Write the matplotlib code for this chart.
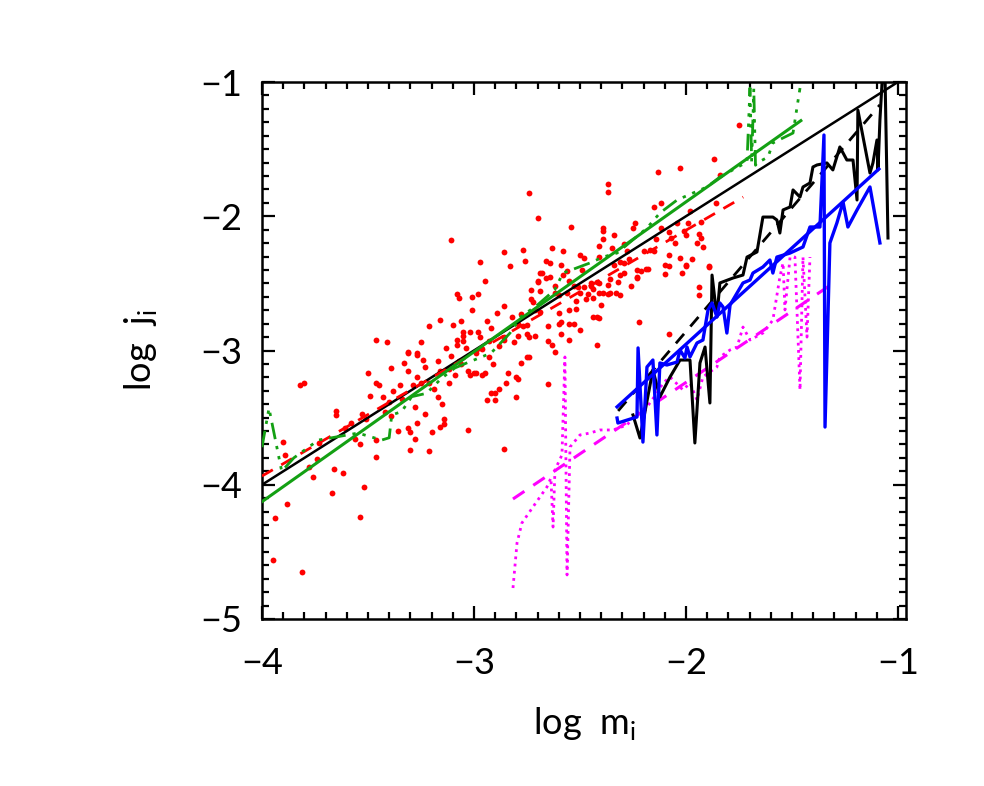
import numpy as np
import matplotlib
matplotlib.use("Agg")
import matplotlib.pyplot as plt
from matplotlib.ticker import FixedLocator, MultipleLocator

# ---------------- data (log m_i, log j_i) ----------------
red_x = [-3.31,-3.27,-3.17,-3.11,-2.99,-2.93,-3.39,-3.23,-3.31,-3.16,-3.09,-3.03,-2.99,-2.96,
         -3.50,-3.46,-3.45,-3.35,-3.29,-3.27,-3.25,-3.21,-3.12,-3.82,-3.80,-3.49,-3.43,-3.38,-3.34,
         -3.17,-3.15,-3.28,-3.42,-3.53,-3.51,-3.65,-3.65,-3.61,-3.73,-3.56,-3.46,-3.39,-3.36,-3.31,
         -3.30,-3.28,-3.27,-3.23,-3.20,-3.16,-3.14,-3.14,-3.03,-3.30,-3.21,-3.46,-3.54,-3.90,-3.89,
         -3.78,-3.74,-3.76,-3.66,-3.62,-3.67,-3.52,-3.88,-3.94,-3.54,-3.95,-3.81,-3.12,-3.06,-3.02,
         -3.00,-2.95,-2.94,-2.92,
         -2.74,-3.11,-2.86,-2.77,-2.76,-2.97,-2.83,-2.95,-3.08,-3.07,-3.01,-2.98,-3.01,-3.16,-3.06,
         -2.94,-2.89,-3.21,-3.10,-3.02,-2.98,-2.92,-3.05,-3.08,-3.05,-3.08,-3.04,-3.46,-3.41,-3.25,
         -3.31,-3.27,-2.88,-2.81,-2.86,-2.79,-2.77,-2.75,-2.75,-2.78,-2.75,-2.96,
         -1.75,-1.87,-2.13,-2.03,-1.84,-2.37,-2.37,-2.70,-2.54,-2.15,-2.12,-1.98,-1.93,-2.04,-2.24,
         -2.39,-2.39,-2.25,-2.34,-2.39,-2.12,-2.08,-2.07,-2.14,-2.01,-2.00,-1.94,-1.93,-1.95,-1.92,
         -2.63,-2.58,-2.50,-2.48,-2.35,-2.29,-2.28,-2.64,-2.59,-2.69,-2.64,-2.66,-2.70,-2.69,-2.62,
         -2.62,-2.55,-2.53,-2.48,-2.45,-2.44,-2.50,-2.46,-2.41,-2.37,-2.41,-2.37,-2.33,-2.31,-2.32,
         -2.34,-2.31,-2.29,-2.27,-2.23,-2.18,-2.23,-2.10,-2.08,-2.10,-2.00,-2.02,-1.97,-1.89,-1.94,
         -1.94,
         -2.56,-2.68,-2.70,-2.73,-2.72,-2.86,-2.79,-2.74,-2.71,-2.65,-2.63,-2.59,-2.55,-2.59,-2.55,
         -2.53,-2.50,-2.62,-2.74,-2.78,-2.84,-2.80,-2.79,-2.85,-2.88,-2.90,-2.90,-2.80,-2.65,-2.86,
         -2.60,-2.56,-2.52,-2.51,-2.45,-2.42,-2.39,-2.44,-2.40,-2.36,-2.41,-2.42,-2.44,-2.22,-2.08,
         -2.42,-2.08,-2.03,-2.00,-1.89,-2.23,-2.19,-2.29,-2.60,-2.55,-2.65,-2.60,-2.52,-1.86,-2.20,
         -2.21,-2.41,-2.41,
         -3.07,-2.97,-2.91,-2.86,-3.19,-3.13,-2.69,-2.66,-2.47,-2.31,-2.26,-2.17,-3.58,-3.40,-3.33,
         -2.82,-2.73,-2.58,-2.49,-2.36,-2.15,-2.05,-1.99,-3.24,-3.05,-2.93,-2.71]
red_y = [-3.02,-3.03,-3.08,-3.04,-3.02,-3.05,-3.13,-3.12,-3.15,-3.15,-3.18,-3.15,-3.17,-3.18,
         -3.17,-3.24,-3.26,-3.26,-3.26,-3.20,-3.24,-3.24,-3.14,-3.26,-3.24,-3.34,-3.35,-3.30,-3.36,
         -3.35,-3.40,-3.42,-3.46,-3.47,-3.51,-3.45,-3.48,-3.58,-3.69,-3.66,-3.67,-3.49,-3.60,-3.58,
         -3.61,-3.66,-3.54,-3.47,-3.61,-3.57,-3.55,-3.51,-3.59,-3.74,-3.75,-3.79,-3.70,-3.68,-3.78,
         -3.87,-3.81,-3.94,-3.88,-3.91,-4.06,-4.02,-4.14,-4.25,-4.24,-4.56,-4.65,-3.24,-3.10,-3.18,
         -3.17,-3.17,-3.37,-3.32,
         -1.83,-2.18,-2.27,-2.25,-2.33,-2.34,-2.37,-2.48,-2.58,-2.61,-2.60,-2.58,-2.70,-2.77,-2.78,
         -2.78,-2.72,-2.82,-2.81,-2.86,-2.86,-2.83,-2.89,-2.92,-2.93,-2.96,-2.98,-2.92,-2.94,-2.94,
         -3.01,-3.02,-2.97,-2.94,-2.92,-2.89,-2.82,-2.88,-2.81,-2.73,-3.05,-2.99,
         -1.32,-1.57,-1.67,-1.64,-1.69,-1.76,-1.82,-2.01,-2.08,-1.93,-1.90,-1.96,-2.04,-2.05,-2.05,
         -2.09,-2.11,-2.09,-2.14,-2.17,-2.09,-2.12,-2.16,-2.17,-2.11,-2.14,-2.13,-2.16,-2.20,-2.23,
         -2.24,-2.26,-2.29,-2.31,-2.24,-2.21,-2.26,-2.35,-2.36,-2.42,-2.45,-2.46,-2.48,-2.56,-2.52,
         -2.57,-2.48,-2.52,-2.53,-2.50,-2.54,-2.57,-2.58,-2.50,-2.51,-2.57,-2.58,-2.57,-2.59,-2.49,
         -2.36,-2.34,-2.35,-2.32,-2.40,-2.39,-2.45,-2.36,-2.37,-2.43,-2.37,-2.42,-2.32,-2.38,-2.53,
         -2.59,
         -2.41,-2.42,-2.49,-2.62,-2.64,-2.90,-2.80,-2.90,-2.89,-2.93,-2.96,-2.88,-2.92,-2.79,-2.80,
         -2.80,-2.85,-3.01,-3.05,-3.09,-3.17,-3.20,-3.21,-3.24,-3.29,-3.32,-3.37,-3.35,-3.25,-3.73,
         -2.59,-2.57,-2.63,-2.53,-2.52,-2.49,-2.57,-2.61,-2.66,-2.57,-2.76,-2.75,-2.75,-2.79,-2.88,
         -2.96,-2.29,-2.31,-2.36,-2.37,-2.46,-2.39,-2.42,-2.72,-2.70,-2.82,-2.80,-2.69,-1.90,-2.26,
         -2.41,-2.22,-2.30,
         -3.08,-2.90,-3.10,-2.67,-3.29,-2.98,-2.71,-2.33,-2.62,-2.44,-2.52,-2.25,-3.54,-3.38,-3.09,
         -2.75,-2.55,-2.44,-2.40,-2.47,-2.26,-2.20,-2.05,-3.07,-2.86,-2.93,-2.70]

# fitted straight lines (end points)
onetoone_x = [-4.0, -0.96]
onetoone_y = [-4.0, -0.96]
red_fit_x = [-4.0, -1.73]
red_fit_y = [-3.935, -1.857]
green_fit_x = [-4.0, -1.458]
green_fit_y = [-4.126, -1.288]
black_fit_x = [-2.32, -1.085]
black_fit_y = [-3.45, -1.17]
blue_fit_x = [-2.325, -1.09]
blue_fit_y = [-3.42, -1.648]
mag_fit_x = [-2.816, -1.297]
mag_fit_y = [-4.106, -2.49]

# green dash-dot curve
green_x = [-4.00,-3.967,-3.907,-3.85,-3.734,-3.671,-3.547,-3.435,-3.40,-3.388,-3.341,-3.294,
           -3.224,-3.153,-3.09,-3.03,-2.92,-2.83,-2.78,-2.70,-2.62,-2.580,-2.453,-2.392,-2.325,
           -2.184,-2.123,-2.042,-1.967,-1.901,-1.840,-1.712,-1.698,-1.690,-1.680,-1.672,-1.665,
           -1.613,-1.590,-1.495,-1.462]
green_y = [-3.72,-3.43,-3.90,-3.80,-3.667,-3.65,-3.615,-3.667,-3.65,-3.48,-3.455,-3.344,
           -3.319,-3.207,-3.13,-3.09,-3.02,-2.87,-2.75,-2.66,-2.55,-2.423,-2.348,-2.304,-2.274,
           -2.088,-1.976,-1.879,-1.827,-1.782,-1.708,-1.596,-1.045,-1.60,-1.05,-1.62,-1.603,
           -1.559,-1.454,-1.380,-1.045]

# black jagged curve
black_x = [-2.250,-2.217,-2.156,-2.123,-2.075,-2.028,-1.981,-1.958,-1.934,-1.910,-1.887,-1.877,
           -1.854,-1.840,-1.778,-1.731,-1.712,-1.665,-1.637,-1.590,-1.571,-1.557,-1.542,-1.509,
           -1.495,-1.462,-1.448,-1.415,-1.401,-1.382,-1.335,-1.307,-1.274,-1.241,-1.212,-1.193,
           -1.189,-1.132,-1.118,-1.099,-1.094,-1.085,-1.075,-1.061,-1.047]
black_y = [-3.480,-3.652,-3.145,-3.346,-3.197,-3.071,-3.071,-3.689,-3.093,-2.974,-3.391,-2.438,
           -2.750,-2.497,-2.460,-2.438,-2.304,-2.266,-2.006,-2.006,-2.028,-2.125,-1.953,-1.931,
           -1.804,-1.857,-1.782,-1.752,-1.633,-1.618,-1.603,-1.655,-1.484,-1.581,-1.581,-1.879,
           -1.209,-1.678,-1.603,-1.432,-1.655,-1.283,-1.007,-0.95,-2.162]

# blue jagged curve
blue_x = [-2.325,-2.321,-2.231,-2.226,-2.203,-2.184,-2.156,-2.137,-2.123,-2.090,-2.042,-2.028,
          -2.005,-1.995,-1.981,-1.948,-1.920,-1.896,-1.877,-1.854,-1.840,-1.825,-1.807,-1.792,
          -1.759,-1.731,-1.698,-1.684,-1.637,-1.604,-1.590,-1.571,-1.509,-1.448,-1.415,-1.368,
          -1.349,-1.344,-1.321,-1.288,-1.259,-1.236,-1.193,-1.132,-1.085]
blue_y = [-3.503,-3.540,-3.495,-2.981,-3.682,-3.123,-3.071,-3.629,-3.093,-3.108,-3.086,-2.996,
          -3.056,-2.974,-3.048,-2.944,-2.922,-2.698,-2.646,-2.750,-2.646,-2.676,-2.870,-2.661,
          -2.572,-2.497,-2.475,-2.423,-2.378,-2.326,-2.423,-2.304,-2.274,-2.229,-2.080,-2.080,
          -1.395,-3.570,-2.199,-2.050,-1.894,-2.080,-1.953,-1.782,-2.199]

# magenta dotted curve
mag_x = [-2.816,-2.797,-2.774,-2.722,-2.656,-2.637,-2.627,-2.618,-2.585,-2.571,-2.561,-2.547,
         -2.500,-2.453,-2.406,-2.344,-2.278,-2.231,-2.184,-2.137,-2.108,-2.075,-2.014,-1.981,
         -1.948,-1.920,-1.854,-1.840,-1.792,-1.759,-1.731,-1.698,-1.637,-1.590,-1.557,-1.542,
         -1.533,-1.509,-1.486,-1.462,-1.448,-1.429,-1.415]
mag_y = [-4.769,-4.434,-4.285,-4.166,-4.017,-3.950,-4.315,-3.890,-3.778,-3.048,-4.672,-3.719,
         -3.629,-3.615,-3.592,-3.592,-3.555,-3.466,-3.421,-3.317,-3.242,-3.197,-3.294,-3.242,
         -3.369,-3.197,-3.123,-3.048,-2.996,-2.974,-2.825,-2.922,-2.870,-2.773,-2.453,-2.348,
         -2.698,-2.304,-2.304,-3.294,-2.304,-2.900,-2.304]

x_ticks = [-4, -3, -2, -1]
y_ticks = [-5, -4, -3, -2, -1]

# ---------------- plot ----------------
plt.rcParams['font.family'] = ['Lato', 'DejaVu Sans']
fig = plt.figure(figsize=(9.84, 7.86), dpi=100)
ax = fig.add_axes([262/984, 1-619/786, (906-262)/984, (619-82)/786])

RED = '#ff0000'; GREEN = '#13a013'; BLUE = '#0000ff'; MAG = '#ff00ff'

ax.plot(red_x, red_y, 'o', color=RED, ms=4.2, mec='none', zorder=2)
ax.plot(onetoone_x, onetoone_y, color='black', lw=1.8, zorder=3)
ax.plot(red_fit_x, red_fit_y, color=RED, lw=2.0, dashes=(4.5, 3.5), zorder=3)
ax.plot(green_x, green_y, color=GREEN, lw=2.0,
        dashes=(6, 2.5, 1.2, 2.5, 1.2, 2.5, 1.2, 2.5), zorder=3)
ax.plot(green_fit_x, green_fit_y, color=GREEN, lw=2.2, zorder=4)
ax.plot(mag_x, mag_y, color=MAG, lw=2.0, dashes=(1, 1.6), zorder=3)
ax.plot(mag_fit_x, mag_fit_y, color=MAG, lw=2.2, dashes=(4.5, 3.5), zorder=3)
ax.plot(black_x, black_y, color='black', lw=2.2, zorder=4)
ax.plot(black_fit_x, black_fit_y, color='black', lw=2.0, dashes=(4.5, 3.5), zorder=4)
ax.plot(blue_x, blue_y, color=BLUE, lw=2.4, zorder=5)
ax.plot(blue_fit_x, blue_fit_y, color=BLUE, lw=2.4, zorder=5)

ax.set_xlim(-4.0, -0.962)
ax.set_ylim(-5.0, -1.0)
ax.xaxis.set_major_locator(FixedLocator(x_ticks))
ax.yaxis.set_major_locator(FixedLocator(y_ticks))
ax.xaxis.set_minor_locator(MultipleLocator(0.1))
ax.yaxis.set_minor_locator(MultipleLocator(0.1))
ax.tick_params(which='both', direction='in', top=True, right=True, width=1.6, color='black')
ax.tick_params(which='major', length=9.5)
ax.tick_params(which='minor', length=5)
ax.tick_params(axis='x', which='major', pad=20, labelsize=26, labelcolor='black')
ax.tick_params(axis='y', which='major', pad=14, labelsize=26, labelcolor='black')
for s in ax.spines.values():
    s.set_linewidth(1.8)

ax.set_xlabel('log  m$_\\mathregular{i}$', fontsize=26, color='black', labelpad=18)
ax.set_ylabel('log  j$_\\mathregular{i}$', fontsize=26, color='black', labelpad=30)

fig.savefig('out.png', dpi=100)
